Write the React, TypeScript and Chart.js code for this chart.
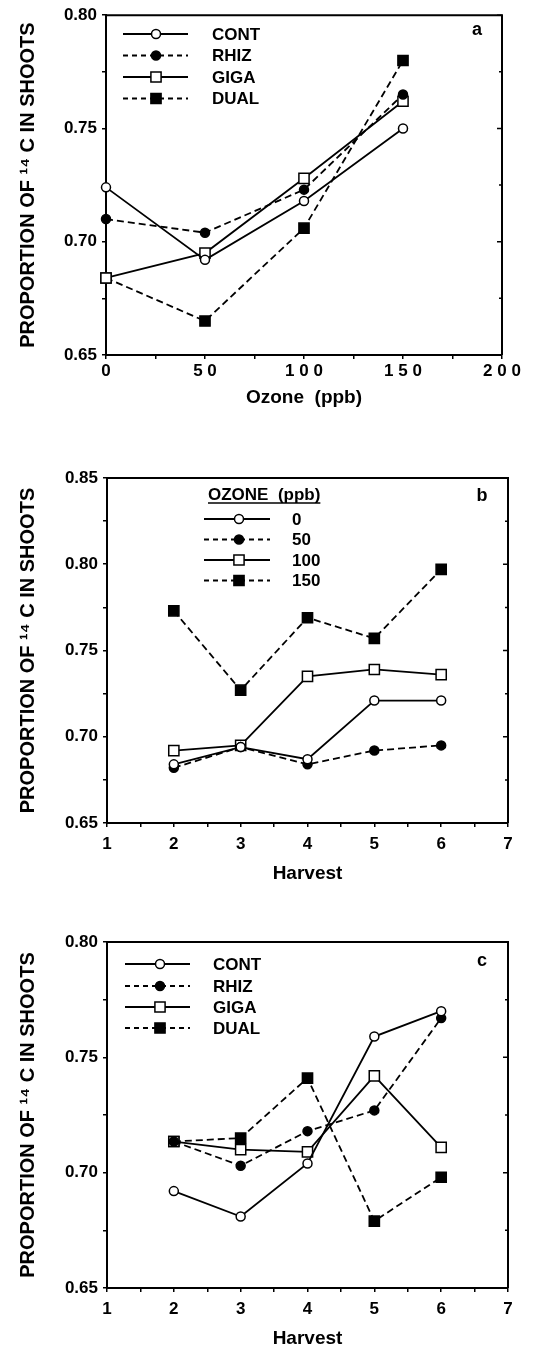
import React, { useEffect, useRef } from 'react';
import { Chart, registerables } from 'chart.js';

Chart.register(...registerables);

const FONT = "'Liberation Sans', Arial, Helvetica, sans-serif";

// ---------- data ----------
const ozoneLevels = [0, 50, 100, 150];
const harvests = [2, 3, 4, 5, 6];

const treatmentNames = ['CONT', 'RHIZ', 'GIGA', 'DUAL'];
const ozoneNames = ['0', '50', '100', '150'];

// panel a: proportion vs ozone
const aCont = [0.724, 0.692, 0.718, 0.750];
const aRhiz = [0.710, 0.704, 0.723, 0.765];
const aGiga = [0.684, 0.695, 0.728, 0.762];
const aDual = [0.684, 0.665, 0.706, 0.780];

// panel b: proportion vs harvest, by ozone level
const bOzone0 = [0.684, 0.694, 0.687, 0.721, 0.721];
const bOzone50 = [0.682, 0.694, 0.684, 0.692, 0.695];
const bOzone100 = [0.692, 0.695, 0.735, 0.739, 0.736];
const bOzone150 = [0.773, 0.727, 0.769, 0.757, 0.797];

// panel c: proportion vs harvest, by treatment
const cCont = [0.692, 0.681, 0.704, 0.759, 0.770];
const cRhiz = [0.7135, 0.703, 0.718, 0.727, 0.767];
const cGiga = [0.7135, 0.710, 0.709, 0.742, 0.711];
const cDual = [0.7135, 0.715, 0.741, 0.679, 0.698];

// ticks
const yTickValuesAC = [0.65, 0.70, 0.75, 0.80];
const yTickLabelsAC = ['0.65', '0.70', '0.75', '0.80'];
const yTickValuesB = [0.65, 0.70, 0.75, 0.80, 0.85];
const yTickLabelsB = ['0.65', '0.70', '0.75', '0.80', '0.85'];
const xTickValuesA = [0, 50, 100, 150, 200];
const xTickLabelsA = ['0', '5 0', '1 0 0', '1 5 0', '2 0 0'];
const xTickValuesH = [1, 2, 3, 4, 5, 6, 7];
const xTickLabelsH = ['1', '2', '3', '4', '5', '6', '7'];

const yTitle = 'PROPORTION OF ¹⁴ C IN SHOOTS';
const xTitleA = 'Ozone  (ppb)';
const xTitleH = 'Harvest';
const legendTitleB = 'OZONE  (ppb)';

// ---------- styles ----------
const STYLES = [
  { dash: [], fill: '#fff', shape: 'circle', r: 4.5 },
  { dash: [7, 4], fill: '#000', shape: 'circle', r: 4.5 },
  { dash: [], fill: '#fff', shape: 'rect', r: 7.2 },
  { dash: [7, 4], fill: '#000', shape: 'rect', r: 7.2 },
];

function makeDataset(label: string, xs: number[], ys: number[], st: any) {
  return {
    label,
    data: xs.map((x, i) => ({ x, y: ys[i] })),
    borderColor: '#000',
    borderWidth: 1.8,
    borderDash: st.dash,
    pointStyle: st.shape,
    pointRadius: st.r,
    pointHoverRadius: st.r,
    pointBackgroundColor: st.fill,
    pointBorderColor: '#000',
    pointBorderWidth: 1.5,
    tension: 0,
    fill: false,
    clip: false,
  };
}

function near(list: number[], v: number) {
  return list.findIndex((m) => Math.abs(m - v) < 1e-6);
}

const decorPlugin = {
  id: 'decor',
  afterDraw(chart: any, _args: any, opts: any) {
    const { ctx, chartArea: ca } = chart;
    ctx.save();
    ctx.setLineDash([]);
    ctx.strokeStyle = '#000';
    // frame
    ctx.lineWidth = 2;
    ctx.beginPath();
    ctx.moveTo(ca.left, ca.top);
    ctx.lineTo(ca.right, ca.top);
    ctx.lineTo(ca.right, ca.bottom);
    ctx.stroke();
    // inward ticks on right side
    const ys = chart.scales.y;
    ctx.lineWidth = 1.5;
    ctx.beginPath();
    ys.ticks.forEach((t: any) => {
      const p = ys.getPixelForValue(t.value);
      const major = near(opts.yMajors, t.value) >= 0;
      ctx.moveTo(ca.right, p);
      ctx.lineTo(ca.right - (major ? 5 : 3), p);
    });
    ctx.stroke();

    // legend
    const lg = opts.legend;
    ctx.fillStyle = '#000';
    ctx.font = `bold 17px ${FONT}`;
    ctx.textBaseline = 'middle';
    ctx.textAlign = 'left';
    if (lg.title) {
      ctx.fillText(lg.title, lg.titleX, lg.titleY);
      const w = ctx.measureText(lg.title).width;
      ctx.lineWidth = 1.5;
      ctx.beginPath();
      ctx.moveTo(lg.titleX, lg.titleY + 8);
      ctx.lineTo(lg.titleX + w, lg.titleY + 8);
      ctx.stroke();
    }
    chart.data.datasets.forEach((ds: any, i: number) => {
      const y = lg.rows[i];
      ctx.lineWidth = ds.borderWidth;
      ctx.setLineDash(ds.borderDash.length ? [5, 4] : []);
      ctx.beginPath();
      ctx.moveTo(lg.x1, y);
      ctx.lineTo(lg.x2, y);
      ctx.stroke();
      ctx.setLineDash([]);
      ctx.lineWidth = ds.pointBorderWidth;
      ctx.fillStyle = ds.pointBackgroundColor;
      ctx.beginPath();
      if (ds.pointStyle === 'circle') {
        ctx.arc(lg.mx, y, ds.pointRadius, 0, Math.PI * 2);
      } else {
        const h = ds.pointRadius * Math.SQRT1_2;
        ctx.rect(lg.mx - h, y - h, 2 * h, 2 * h);
      }
      ctx.fill();
      ctx.stroke();
      ctx.fillStyle = '#000';
      ctx.font = `bold 17px ${FONT}`;
      ctx.fillText(ds.label, lg.tx, y + 1);
    });

    // panel letter
    ctx.textAlign = 'center';
    ctx.font = `bold 18px ${FONT}`;
    ctx.fillText(opts.letter, opts.letterX, opts.letterY);
    ctx.restore();
  },
};

function makeConfig(p: any) {
  return {
    type: 'line',
    data: { datasets: p.datasets },
    plugins: [decorPlugin],
    options: {
      animation: false,
      responsive: false,
      devicePixelRatio: 1,
      events: [],
      layout: {
        padding: { left: 0, top: p.area.top, right: 536 - p.area.right, bottom: 0 },
      },
      plugins: {
        legend: { display: false },
        tooltip: { enabled: false },
        decor: {
          yMajors: p.yMajors,
          legend: p.legend,
          letter: p.letter,
          letterX: p.letterX,
          letterY: p.letterY,
        },
      },
      scales: {
        x: {
          type: 'linear',
          position: 'bottom',
          min: p.xMin,
          max: p.xMax,
          afterFit: (s: any) => {
            s.height = p.canvasH - p.area.bottom;
          },
          border: { display: true, color: '#000', width: 2 },
          grid: { display: true, drawOnChartArea: false, drawTicks: true, tickLength: 4, color: '#000', lineWidth: 1.5 },
          ticks: {
            stepSize: p.xStep,
            autoSkip: false,
            maxRotation: 0,
            padding: p.xTickPad,
            color: '#000',
            font: { family: FONT, size: 17, weight: 'bold' },
            callback: (v: number) => {
              const i = near(p.xMajors, v);
              return i >= 0 ? p.xLabels[i] : '';
            },
          },
          title: {
            display: true,
            text: p.xTitle,
            color: '#000',
            font: { family: FONT, size: 19, weight: 'bold' },
            padding: { top: 0, bottom: p.xTitlePad },
          },
        },
        y: {
          type: 'linear',
          position: 'left',
          min: p.yMin,
          max: p.yMax,
          afterFit: (s: any) => {
            s.width = p.area.left;
          },
          border: { display: true, color: '#000', width: 2 },
          grid: { display: true, drawOnChartArea: false, drawTicks: true, tickLength: 4, color: '#000', lineWidth: 1.5 },
          ticks: {
            stepSize: 0.025,
            autoSkip: false,
            padding: 5,
            color: '#000',
            font: { family: FONT, size: 17, weight: 'bold' },
            callback: (v: number) => {
              const i = near(p.yMajors, v);
              return i >= 0 ? p.yLabels[i] : '';
            },
          },
          title: {
            display: true,
            text: yTitle,
            color: '#000',
            font: { family: FONT, size: 20, weight: 'bold' },
            padding: { top: 16.5, bottom: 0 },
          },
        },
      },
    },
  };
}

const panelA = () =>
  makeConfig({
    datasets: [
      makeDataset(treatmentNames[0], ozoneLevels, aCont, STYLES[0]),
      makeDataset(treatmentNames[1], ozoneLevels, aRhiz, STYLES[1]),
      makeDataset(treatmentNames[2], ozoneLevels, aGiga, STYLES[2]),
      makeDataset(treatmentNames[3], ozoneLevels, aDual, STYLES[3]),
    ],
    canvasH: 420,
    area: { left: 106, top: 12, right: 502, bottom: 355 },
    xMin: 0, xMax: 200, xStep: 25, xMajors: xTickValuesA, xLabels: xTickLabelsA,
    yMin: 0.65, yMax: 0.80, yMajors: yTickValuesAC, yLabels: yTickLabelsAC,
    xTickPad: 2, xTitle: xTitleA, xTitlePad: 10.6,
    legend: { x1: 123, x2: 188, mx: 156, tx: 212, rows: [34, 55.5, 77, 98.5] },
    letter: 'a', letterX: 477, letterY: 30,
  });

const panelB = () =>
  makeConfig({
    datasets: [
      makeDataset(ozoneNames[0], harvests, bOzone0, STYLES[0]),
      makeDataset(ozoneNames[1], harvests, bOzone50, STYLES[1]),
      makeDataset(ozoneNames[2], harvests, bOzone100, STYLES[2]),
      makeDataset(ozoneNames[3], harvests, bOzone150, STYLES[3]),
    ],
    canvasH: 460,
    area: { left: 107, top: 48, right: 508, bottom: 393 },
    xMin: 1, xMax: 7, xStep: 0.5, xMajors: xTickValuesH, xLabels: xTickLabelsH,
    yMin: 0.65, yMax: 0.85, yMajors: yTickValuesB, yLabels: yTickLabelsB,
    xTickPad: 7, xTitle: xTitleH, xTitlePad: 4.6,
    legend: {
      title: legendTitleB, titleX: 208, titleY: 65,
      x1: 204, x2: 270, mx: 239, tx: 292, rows: [89, 109.5, 130, 150.5],
    },
    letter: 'b', letterX: 482, letterY: 66,
  });

const panelC = () =>
  makeConfig({
    datasets: [
      makeDataset(treatmentNames[0], harvests, cCont, STYLES[0]),
      makeDataset(treatmentNames[1], harvests, cRhiz, STYLES[1]),
      makeDataset(treatmentNames[2], harvests, cGiga, STYLES[2]),
      makeDataset(treatmentNames[3], harvests, cDual, STYLES[3]),
    ],
    canvasH: 462,
    area: { left: 107, top: 52, right: 508, bottom: 398 },
    xMin: 1, xMax: 7, xStep: 0.5, xMajors: xTickValuesH, xLabels: xTickLabelsH,
    yMin: 0.65, yMax: 0.80, yMajors: yTickValuesAC, yLabels: yTickLabelsAC,
    xTickPad: 7, xTitle: xTitleH, xTitlePad: 1.6,
    legend: { x1: 125, x2: 190, mx: 160, tx: 213, rows: [74, 96, 117, 138] },
    letter: 'c', letterX: 482, letterY: 71,
  });

function Panel({ make, top, height }: { make: () => any; top: number; height: number }) {
  const ref = useRef<HTMLCanvasElement | null>(null);
  useEffect(() => {
    const chart = new Chart(ref.current as HTMLCanvasElement, make() as any);
    return () => chart.destroy();
  }, []);
  return (
    <canvas
      ref={ref}
      width={536}
      height={height}
      style={{ position: 'absolute', left: 0, top, width: 536, height }}
    />
  );
}

export default function App() {
  return (
    <div style={{ position: 'absolute', left: 0, top: 0, width: 536, height: 1352, background: '#fff' }}>
      <Panel make={panelA} top={0} height={420} />
      <Panel make={panelB} top={430} height={460} />
      <Panel make={panelC} top={890} height={462} />
    </div>
  );
}
